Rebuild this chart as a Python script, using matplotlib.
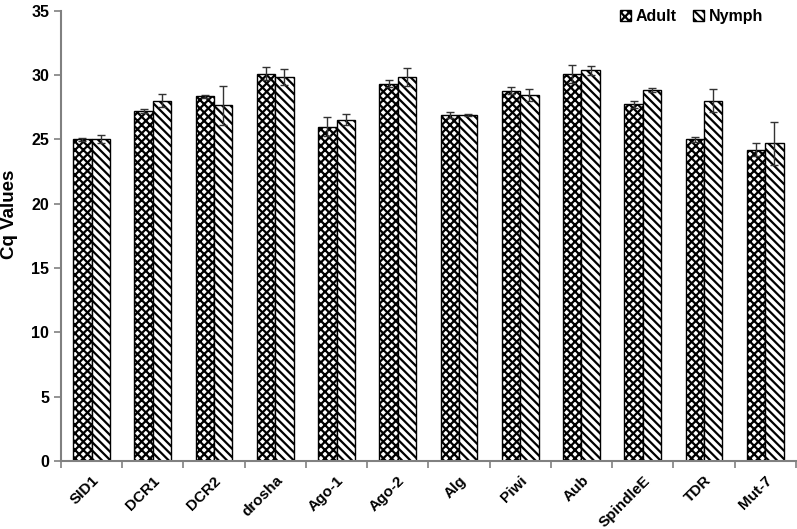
import matplotlib
matplotlib.use("Agg")
import matplotlib.pyplot as plt
import numpy as np

genes = ["SID1", "DCR1", "DCR2", "drosha", "Ago-1", "Ago-2", "Alg", "Piwi",
         "Aub", "SpindleE", "TDR", "Mut-7"]
adult = [25.0, 27.2, 28.35, 30.1, 26.0, 29.35, 26.9, 28.8, 30.1, 27.75, 25.0, 24.2]
adult_err = [0.1, 0.15, 0.1, 0.5, 0.75, 0.25, 0.25, 0.3, 0.7, 0.27, 0.23, 0.5]
nymph = [25.05, 28.0, 27.65, 29.85, 26.55, 29.85, 26.9, 28.45, 30.4, 28.85, 28.0, 24.7]
nymph_err = [0.3, 0.5, 1.5, 0.6, 0.4, 0.7, 0.1, 0.45, 0.35, 0.13, 0.9, 1.65]

plt.rcParams["font.family"] = ["Liberation Sans", "DejaVu Sans"]
plt.rcParams["font.weight"] = "bold"
plt.rcParams["hatch.linewidth"] = 1.6

fig = plt.figure(figsize=(7.97, 5.29), dpi=100)
ax = fig.add_axes([0.0765, 0.1285, 0.922, 0.851])

x = np.arange(len(genes))
w = 0.3
ax.bar(x - w / 2, adult, w, yerr=adult_err, color="white", edgecolor="black",
       hatch="xxxx", linewidth=1.0, label="Adult",
       error_kw=dict(ecolor="#333333", elinewidth=1.0, capsize=3, capthick=1.0))
ax.bar(x + w / 2, nymph, w, yerr=nymph_err, color="white", edgecolor="black",
       hatch="\\\\\\\\", linewidth=1.0, label="Nymph",
       error_kw=dict(ecolor="#333333", elinewidth=1.0, capsize=3, capthick=1.0))

ax.set_xlim(-0.5, len(genes) - 0.5)
ax.set_ylim(0, 35)
ax.set_yticks(range(0, 36, 5))
ax.set_ylabel("Cq Values", fontsize=13.5, fontweight="bold")
ax.yaxis.set_label_coords(-0.058, 0.547)

ax.set_xticks(x)
ax.set_xticklabels(genes, rotation=45, ha="right", rotation_mode="anchor",
                   fontsize=11, fontweight="bold")
ax.set_xticks(np.arange(-0.5, len(genes), 1), minor=True)
ax.tick_params(axis="x", which="major", length=0, pad=9)
ax.tick_params(axis="x", which="minor", length=5, color="#808080", width=1.2)
ax.tick_params(axis="y", labelsize=11.5, length=5, color="#808080", width=1.2)
for lab in ax.get_yticklabels():
    lab.set_fontweight("bold")

ax.spines["top"].set_visible(False)
ax.spines["right"].set_visible(False)
for s in ("left", "bottom"):
    ax.spines[s].set_color("#808080")
    ax.spines[s].set_linewidth(1.5)

leg = ax.legend(loc="upper right", bbox_to_anchor=(0.975, 1.035), ncol=2, frameon=False,
                fontsize=11.5, handlelength=0.7, handleheight=0.7,
                handletextpad=0.3, columnspacing=1.0)
for t in leg.get_texts():
    t.set_fontweight("bold")

fig.savefig("out.png", dpi=100)
